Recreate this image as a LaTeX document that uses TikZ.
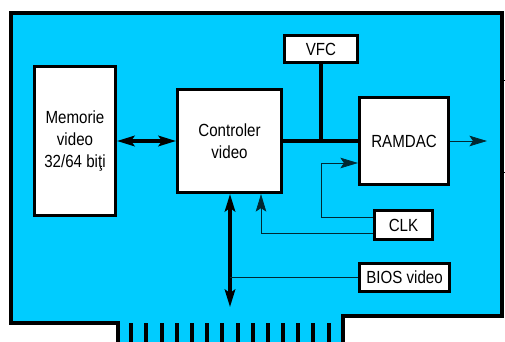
\documentclass[tikz,border=0pt]{standalone}
\usepackage{fontspec}
\setmainfont{Liberation Sans}[FakeStretch=0.86]
\usetikzlibrary{arrows.meta,calc}
\definecolor{BoardClr}{RGB}{0,204,255}
\definecolor{WireClr}{RGB}{0,40,50}

\begin{document}
\begin{tikzpicture}[x=0.03cm,y=-0.03cm,
  font=\fontsize{15}{19}\selectfont,
  box/.style={draw,fill=white,line width=2.6pt,align=center,inner sep=0pt},
  bus/.style={line width=3.4pt},
  link/.style={line width=2.6pt},
  wire/.style={line width=0.7pt,color=WireClr},
  onetip/.style={-{Stealth[length=15pt,width=9pt,inset=3pt]}},
  twotips/.style={{Stealth[length=15pt,width=9pt,inset=3pt]}-{Stealth[length=15pt,width=9pt,inset=3pt]}}]
\useasboundingbox (0,0) rectangle (505,342);

\fill[BoardClr] (11,13) -- (502,13) -- (502,316) -- (343,316) -- (343,342)
  -- (118,342) -- (118,323) -- (11,323) -- cycle;
\draw[line width=2.6pt] (118,342) -- (118,323) -- (11,323) -- (11,13) -- (502,13)
  -- (502,316) -- (343,316) -- (343,342);
\draw[line width=0.8pt] (502,80) -- (505,80) (502,172) -- (505,172);

\foreach \i in {0,...,13}
  \fill ({129.3+\i*15.18},323) rectangle ++(4,19);

\node[box,minimum width=2.43cm,minimum height=4.47cm] (mem) at (75,141) {Memorie\\video\\32/64 biţi};
\node[box,minimum width=3.12cm,minimum height=3.09cm] (ctrl) at (229.5,141) {Controler\\video};
\node[box,minimum width=2.19cm,minimum height=0.81cm] (vfc) at (321,49) {VFC};
\node[box,minimum width=2.67cm,minimum height=2.61cm] (ramdac) at (404,141) {RAMDAC};
\node[box,minimum width=1.74cm,minimum height=0.87cm] (clk) at (403.5,225) {CLK};
\node[box,minimum width=2.7cm,minimum height=0.84cm] (bios) at (404.5,277.5) {BIOS video};

\coordinate (out) at (487,141);
\coordinate (clkbend) at (321,163);
\coordinate (slot) at (230,307);

\draw[link,twotips] (mem) -- (ctrl);
\draw[bus] (ctrl) -- (ramdac);
\draw[bus] (vfc) -- (vfc |- ramdac);
\draw[wire,onetip] (ramdac) -- (out);
\draw[wire,onetip] ($(clk.west)+(0,-8)$) -| (clkbend) -- (clkbend -| ramdac.west);
\draw[wire,onetip] ($(clk.west)+(0,8)$) -| ($(ctrl.south)+(31.5,0)$);
\draw[link,twotips] (slot |- ctrl.south) -- (slot);
\draw[wire] (bios) -- (bios -| slot);

\end{tikzpicture}
\end{document}
